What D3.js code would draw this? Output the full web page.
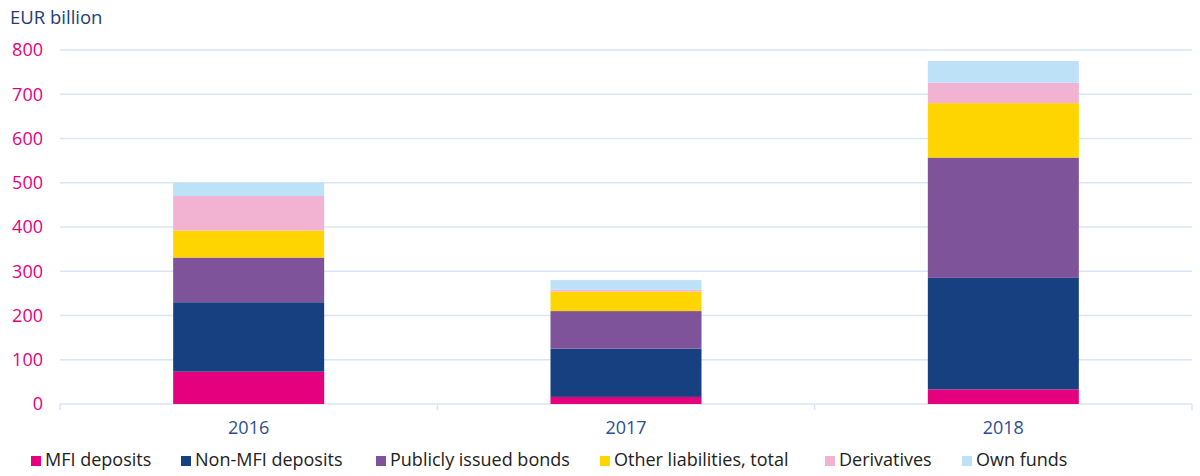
<!DOCTYPE html>
<html>
<head>
<meta charset="utf-8">
<script src="https://cdn.jsdelivr.net/npm/d3@7"></script>
<style>
  body { margin: 0; background: #fff; }
  svg { font-family: "Open Sans", "Noto Sans", sans-serif; }
</style>
</head>
<body>
<svg id="chart"></svg>
<script>
const years = ['2016', '2017', '2018'];
const seriesNames = ['MFI deposits', 'Non-MFI deposits', 'Publicly issued bonds',
  'Other liabilities, total', 'Derivatives', 'Own funds'];
const mfiDeposits = [73, 16, 33];
const nonMfiDeposits = [157, 109, 252];
const publicBonds = [101, 85, 272];
const otherLiabilities = [61, 44, 123];
const derivatives = [78, 4, 46];
const ownFunds = [30, 22, 49];
const yTicks = [0, 100, 200, 300, 400, 500, 600, 700, 800];

const colors = ['#e5007d', '#164080', '#7e5399', '#ffd500', '#f2b3d3', '#bde2f8'];
const allSeries = [mfiDeposits, nonMfiDeposits, publicBonds, otherLiabilities, derivatives, ownFunds];

const width = 1200, height = 476;
const margin = { top: 50, right: 8, bottom: 72, left: 60 };
const innerW = width - margin.left - margin.right;
const innerH = height - margin.top - margin.bottom;

const rows = years.map((yr, i) => {
  const row = { year: yr };
  seriesNames.forEach((s, j) => { row[s] = allSeries[j][i]; });
  return row;
});
const stacked = d3.stack().keys(seriesNames)(rows);

const svg = d3.select('#chart').attr('width', width).attr('height', height);
const chart = svg.append('g').attr('transform', `translate(${margin.left},${margin.top})`);

const x = d3.scaleBand().domain(years).range([0, innerW]);
const y = d3.scaleLinear().domain([0, 800]).range([innerH, 0]);
const barW = 151;

// grid lines
chart.selectAll('.grid')
  .data(yTicks)
  .enter().append('line')
  .attr('x1', 0).attr('x2', innerW)
  .attr('y1', d => y(d)).attr('y2', d => y(d))
  .attr('stroke', '#dae6f7').attr('stroke-width', 1.5);

// y labels
chart.selectAll('.ylab')
  .data(yTicks)
  .enter().append('text')
  .attr('x', -17).attr('y', d => y(d))
  .attr('dy', '0.35em')
  .attr('text-anchor', 'end')
  .style('font-size', '18px')
  .style('font-weight', 500)
  .style('fill', '#e5007d')
  .text(d => d);

// x category separators
const sepX = [0].concat(years.map(d => x(d) + x.bandwidth()));
chart.selectAll('.sep')
  .data(sepX)
  .enter().append('line')
  .attr('x1', d => d).attr('x2', d => d)
  .attr('y1', innerH).attr('y2', innerH + 6)
  .attr('stroke', '#dae6f7').attr('stroke-width', 1.5);

// bars
const serie = chart.selectAll('.serie')
  .data(stacked)
  .enter().append('g')
  .attr('fill', (d, i) => colors[i]);

serie.selectAll('rect')
  .data(d => d)
  .enter().append('rect')
  .attr('x', d => x(d.data.year) + (x.bandwidth() - barW) / 2)
  .attr('width', barW)
  .attr('y', d => y(d[1]))
  .attr('height', d => y(d[0]) - y(d[1]));

// year labels
chart.selectAll('.xlab')
  .data(years)
  .enter().append('text')
  .attr('x', d => x(d) + x.bandwidth() / 2)
  .attr('y', innerH + 30)
  .attr('text-anchor', 'middle')
  .style('font-size', '18px')
  .style('font-weight', 500)
  .style('fill', '#2b4f91')
  .text(d => d);

// axis title
svg.append('text')
  .attr('x', 10).attr('y', 24)
  .style('font-size', '18.5px')
  .style('fill', '#1e3d78')
  .text('EUR billion');

// legend
const legendX = [31, 181, 376, 600, 825, 962];
const legend = svg.selectAll('.legend')
  .data(seriesNames)
  .enter().append('g')
  .attr('transform', (d, i) => `translate(${legendX[i]},460)`);

legend.append('rect')
  .attr('x', 0).attr('y', -4)
  .attr('width', 10).attr('height', 10)
  .attr('fill', (d, i) => colors[i]);

legend.append('text')
  .attr('x', 14).attr('y', 0)
  .attr('dy', '0.35em')
  .style('font-size', '18px')
  .style('fill', '#222')
  .text(d => d);
</script>
</body>
</html>
